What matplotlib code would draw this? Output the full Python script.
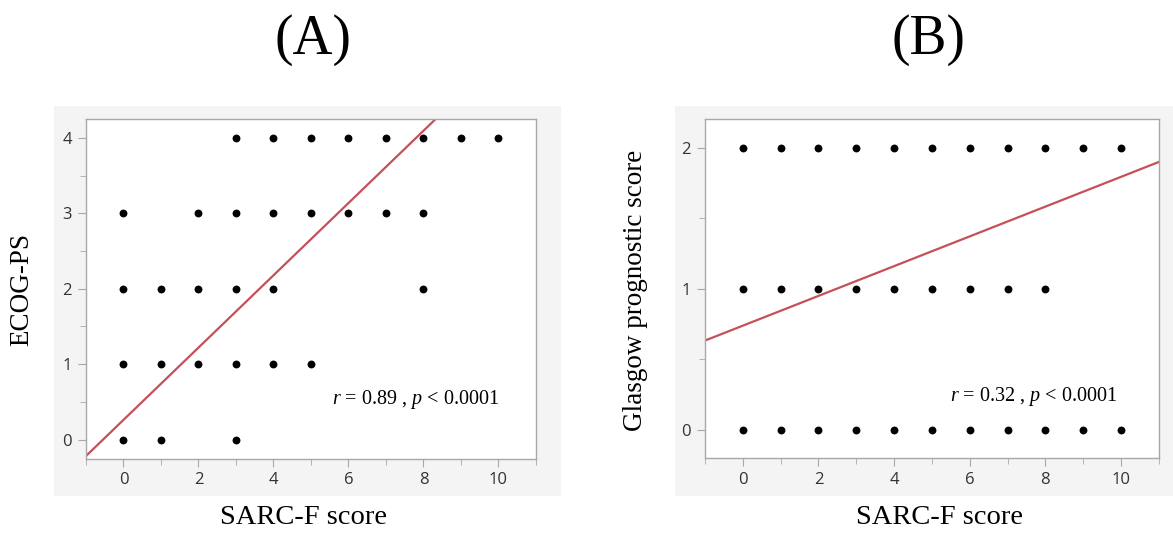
import matplotlib
matplotlib.use("Agg")
import matplotlib.pyplot as plt
import numpy as np
from matplotlib.patches import Rectangle
from matplotlib.ticker import MultipleLocator

# Panel A data: ECOG-PS vs SARC-F
a_x = [3, 4, 5, 6, 7, 8, 9, 10,
       0, 2, 3, 4, 5, 6, 7, 8,
       0, 1, 2, 3, 4, 8,
       0, 1, 2, 3, 4, 5,
       0, 1, 3]
a_y = [4, 4, 4, 4, 4, 4, 4, 4,
       3, 3, 3, 3, 3, 3, 3, 3,
       2, 2, 2, 2, 2, 2,
       1, 1, 1, 1, 1, 1,
       0, 0, 0]
a_fit = (0.262, 0.479)   # intercept, slope
a_text = "$r$ = 0.89 , $p$ < 0.0001"

# Panel B data: Glasgow prognostic score vs SARC-F
b_x = list(range(0, 11)) + list(range(0, 9)) + list(range(0, 11))
b_y = [2] * 11 + [1] * 9 + [0] * 11
b_fit = (0.739, 0.1054)
b_text = "$r$ = 0.32 , $p$ < 0.0001"

serif = "Liberation Serif"
plt.rcParams["mathtext.fontset"] = "custom"
plt.rcParams["mathtext.it"] = "Liberation Serif:italic"
plt.rcParams["mathtext.rm"] = "Liberation Serif"

fig = plt.figure(figsize=(11.73, 5.40), dpi=100)
fig.patch.set_facecolor("white")

bg = "#f4f4f4"
fig.patches.append(Rectangle((0.046, 0.0815), 0.432, 0.722, transform=fig.transFigure,
                             facecolor=bg, edgecolor="none", zorder=-5))
fig.patches.append(Rectangle((0.5754, 0.0815), 0.4246, 0.722, transform=fig.transFigure,
                             facecolor=bg, edgecolor="none", zorder=-5))

axA = fig.add_axes([0.0733, 0.1509, 0.3836, 0.6287])
axB = fig.add_axes([0.601, 0.1513, 0.387, 0.6277])

line_color = "#c4505a"
frame_color = "#a8a8a8"

def style(ax, xs, ys, fit, ylim, txt, txtpos):
    ax.set_facecolor("white")
    ax.scatter(xs, ys, s=32, color="black", zorder=3, linewidths=0)
    xx = np.array([-1.0, 11.0])
    ax.plot(xx, fit[0] + fit[1] * xx, color=line_color, lw=1.6, zorder=2)
    ax.set_xlim(-1, 11)
    ax.set_ylim(*ylim)
    ax.xaxis.set_major_locator(MultipleLocator(2))
    ax.xaxis.set_minor_locator(MultipleLocator(1))
    ax.yaxis.set_major_locator(MultipleLocator(1))
    ax.yaxis.set_minor_locator(MultipleLocator(0.5))
    for sp in ax.spines.values():
        sp.set_color(frame_color)
        sp.set_linewidth(1.0)
    ax.tick_params(which="both", direction="out", color=frame_color, labelcolor="#333333",
                   labelsize=12)
    ax.tick_params(which="major", length=6, pad=4)
    ax.tick_params(which="minor", length=4)
    for t in ax.get_xticklabels() + ax.get_yticklabels():
        t.set_fontfamily("Open Sans")
    ax.text(txtpos[0], txtpos[1], txt, fontfamily=serif, fontsize=14.5,
            ha="center", va="center", transform=ax.transData)

style(axA, a_x, a_y, a_fit, (-0.25, 4.25), a_text, (7.8, 0.53))
style(axB, b_x, b_y, b_fit, (-0.2, 2.2), b_text, (7.7, 0.24))

fig.text(22 / 1173, 1 - 290 / 540, "ECOG-PS", rotation=90, fontfamily=serif, fontsize=19.5,
         ha="center", va="center")
fig.text(635 / 1173, 1 - 290 / 540, "Glasgow prognostic score", rotation=90, fontfamily=serif,
         fontsize=19.5, ha="center", va="center")

fig.text(303 / 1173, 1 - 518 / 540, "SARC-F score", fontfamily=serif, fontsize=20.5,
         ha="center", va="center")
fig.text(940 / 1173, 1 - 518 / 540, "SARC-F score", fontfamily=serif, fontsize=20.5,
         ha="center", va="center")
fig.text(313 / 1173, 1 - 40 / 540, "(A)", fontfamily=serif, fontsize=40, ha="center", va="center")
fig.text(928 / 1173, 1 - 40 / 540, "(B)", fontfamily=serif, fontsize=40, ha="center", va="center")

fig.savefig("out.png", dpi=100)
